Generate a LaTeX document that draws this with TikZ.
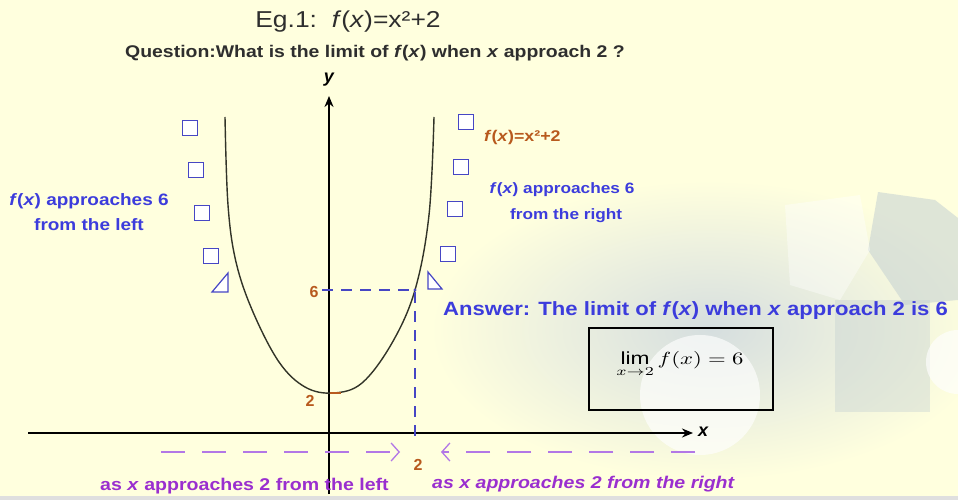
\documentclass[tikz,border=0pt]{standalone}
\usepackage{fontspec}
\setmainfont{Liberation Sans}
\usetikzlibrary{arrows.meta}
\definecolor{bgyellow}{HTML}{FFFFDE}
\definecolor{inkgray}{HTML}{2E2E2E}
\definecolor{txtblue}{HTML}{3C3CDC}
\definecolor{markblue}{HTML}{4646C4}
\definecolor{rust}{HTML}{B85A1E}
\definecolor{plum}{HTML}{9A2FCF}
\definecolor{lilac}{HTML}{B277E6}
\definecolor{ghost}{HTML}{C4D0D2}
% the slide text is set a little wide
\newcommand{\stretchx}[1]{\scalebox{1.15}[1]{#1}}
\tikzset{
  axis/.style={line width=2.6pt, -{Stealth[length=11pt,width=9pt]}},
  curve/.style={line width=1.4pt, draw={rgb,255:red,50;green,52;blue,40}},
  guide/.style={markblue, line width=1.3pt, dash pattern=on 11pt off 8pt},
  approach/.style={lilac, line width=1.3pt, dash pattern=on 24pt off 17pt,
    -{Straight Barb[length=8pt,width=18pt,line width=1.3pt]}},
  marker/.style={draw=markblue, fill=white, line width=1.2pt, minimum size=15pt, inner sep=0pt},
  wedge/.style={draw=markblue, fill=white, line width=1.2pt},
  remark/.style={text=txtblue, font=\bfseries\fontsize{16.5}{25}\selectfont, align=center},
  num/.style={text=rust, font=\bfseries\fontsize{16}{18}\selectfont, inner sep=1pt},
  note/.style={text=plum, font=\bfseries\fontsize{17}{19}\selectfont, anchor=west, inner sep=0pt}
}
\begin{document}
\begin{tikzpicture}[x=1pt,y=-1pt]
  \useasboundingbox (0,0) rectangle (958,500);
  \fill[bgyellow] (0,0) rectangle (958,500);
  \fill[gray!25] (0,496) rectangle (958,500);
  % faded picture behind the answer
  \shade[inner color=ghost!70!white, outer color=bgyellow] (710,330) ellipse [x radius=280, y radius=150];
  \fill[ghost, opacity=.55] (878,192) -- (935,200) -- (958,218) -- (958,300) -- (905,305) -- (868,250) -- cycle;
  \fill[ghost, opacity=.4] (835,300) rectangle (930,412);
  \fill[white, opacity=.4] (785,205) -- (860,195) -- (870,250) -- (840,300) -- (790,285) -- cycle;
  \fill[white, opacity=.65] (700,395) circle[radius=60];
  \fill[white, opacity=.65] (958,362) circle[radius=32];

  % headings
  \node[text=inkgray, font=\fontsize{23}{26}\selectfont] (title) at (348,22)
    {\stretchx{Eg.1:\ \ \textit{f}(\textit{x})=x²+2}};
  \node[text=inkgray, font=\bfseries\fontsize{16.9}{19}\selectfont] (question) at (375,53)
    {\stretchx{Question:What is the limit of \textit{f}(\textit{x}) when \textit{x} approach 2 ?}};

  % axes
  \coordinate (O) at (329,433);
  \coordinate (xl) at (28,433);
  \coordinate (xr) at (693,433);
  \coordinate (yb) at (329,494);
  \coordinate (yt) at (329,96);
  \draw[axis] (xl) -- (xr);
  \draw[axis] (yb) -- (yt);
  \node[font=\bfseries\itshape\fontsize{18}{20}\selectfont] (xlab) at (703,432) {x};
  \node[font=\bfseries\itshape\fontsize{18}{20}\selectfont] (ylab) at (329,80) {y};

  % the graph
  \draw[curve] plot[smooth, tension=.6] coordinates {(225,117) (228,205) (236,262) (253,312)
    (279,362) (305,387) (333,393) (362,383) (392,343) (415,290) (429,215) (434,117)};
  \draw[rust, line width=1.5pt] (330,393) -- (341,393);

  % x -> 2 gives f(x) -> 6
  \coordinate (P) at (415,290);
  \coordinate (Pl) at (322,290);
  \coordinate (Pfoot) at (415,441);
  \draw[guide] (Pl) -- (P) -- (Pfoot);
  \fill[markblue] (P) circle[radius=1.6];
  \node[num] (six) at (314,292) {6};
  \node[num] (twoy) at (310,401) {2};
  \node[num] (twox) at (418,465) {2};

  % values creeping down the branches
  \foreach \x/\y [count=\i] in {190/128, 196/170, 202/213, 211/256}
    \node[marker] (sqL\i) at (\x,\y) {};
  \foreach \x/\y [count=\i] in {466/122, 461/167, 455/209, 448/254}
    \node[marker] (sqR\i) at (\x,\y) {};
  \draw[wedge] (212,292) -- (228,292) -- (228,273) -- cycle;
  \draw[wedge] (428,272) -- (428,289) -- (442,289) -- cycle;

  \node[text=rust, font=\bfseries\fontsize{15.5}{17}\selectfont, anchor=west, inner sep=0pt] (fname) at (484,137)
    {\stretchx{\textit{f}(\textit{x})=x²+2}};
  \node[remark] (fromleft) at (89,212)
    {\stretchx{\textit{f}(\textit{x}) approaches 6}\\\stretchx{from the left}};
  \node[remark, font=\bfseries\fontsize{15}{26}\selectfont] (fromright) at (562,203)
    {\stretchx{\textit{f}(\textit{x}) approaches 6}\\\ \ \stretchx{from the right}};

  % x approaching 2 along the axis
  \coordinate (la) at (161,452);
  \coordinate (lb) at (400,452);
  \coordinate (ra) at (695,452);
  \coordinate (rb) at (441,452);
  \draw[approach] (la) -- (lb);
  \draw[approach] (ra) -- (rb);
  \node[note] (bleft) at (100,486) {\stretchx{as \textit{x} approaches 2 from the left}};
  \node[note, font=\bfseries\itshape\fontsize{17}{19}\selectfont] (bright) at (432,484)
    {\stretchx{as x approaches 2 from the right}};

  % answer
  \node[text=txtblue, font=\bfseries\fontsize{19.2}{22}\selectfont, anchor=west, inner sep=0pt] (answer) at (443,311)
    {\stretchx{Answer: The limit of \textit{f}(\textit{x}) when \textit{x} approach 2 is 6}};
  \node[draw=black, line width=1.3pt, minimum width=184pt, minimum height=82pt] (limbox) at (681,369) {};
  \node[scale=1.75] (limit) at (680,364) {\scalebox{1.3}[1]{$\displaystyle\lim_{x\to2} f(x)=6$}};
\end{tikzpicture}
\end{document}
